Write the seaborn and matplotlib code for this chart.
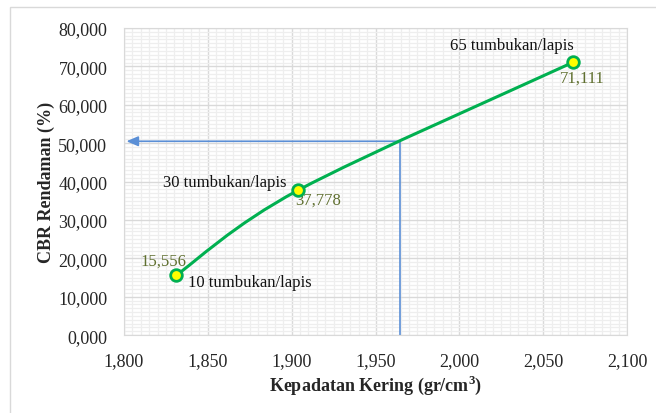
import matplotlib
matplotlib.use("Agg")
import matplotlib.pyplot as plt
import matplotlib.ticker as mticker
from matplotlib.path import Path
from matplotlib.patches import PathPatch, Rectangle
import numpy as np
import seaborn as sns

# data
density = [1.831, 1.904, 2.068]
cbr = [15.556, 37.778, 71.111]
blow_labels = ["10 tumbukan/lapis", "30 tumbukan/lapis", "65 tumbukan/lapis"]
value_labels = ["15,556", "37,778", "71,111"]
design_density = 1.9645
design_cbr = 50.5

GREEN = "#00b050"
BLUE = "#5b8fd6"
OLIVE = "#5f6f2f"


def comma_fmt(decimals):
    return mticker.FuncFormatter(lambda v, p: f"{v:.{decimals}f}".replace(".", ","))


def smooth_path(xs, ys):
    # Bezier smoothing like an Excel "smoothed line"
    pts = np.column_stack([xs, ys])
    n = len(pts)
    verts = [pts[0]]
    codes = [Path.MOVETO]
    for i in range(n - 1):
        p_prev = pts[max(i - 1, 0)]
        p0, p1 = pts[i], pts[i + 1]
        p_next = pts[min(i + 2, n - 1)]
        c1 = p0 + (p1 - p_prev) / 6
        c2 = p1 - (p_next - p0) / 6
        verts += [c1, c2, p1]
        codes += [Path.CURVE4] * 3
    return Path(verts, codes)


sns.set_style("white")
plt.rcParams["font.family"] = ["Liberation Serif", "DejaVu Serif"]

fig = plt.figure(figsize=(6.56, 4.14), dpi=100)
ax = fig.add_axes([0.189, 0.188, 0.767, 0.742])

# chart border
fig.patches.append(Rectangle((10 / 656, -0.1), 1.2, 1 - 8 / 414 + 0.1,
                             transform=fig.transFigure, fill=False,
                             edgecolor="#d9d9d9", linewidth=1))

ax.set_xlim(1.8, 2.1)
ax.set_ylim(0, 80)
ax.xaxis.set_major_locator(mticker.MultipleLocator(0.05))
ax.xaxis.set_minor_locator(mticker.MultipleLocator(0.005))
ax.yaxis.set_major_locator(mticker.MultipleLocator(10))
ax.yaxis.set_minor_locator(mticker.MultipleLocator(1))
ax.xaxis.set_major_formatter(comma_fmt(3))
ax.yaxis.set_major_formatter(mticker.FuncFormatter(
    lambda v, p: f"{v:.0f},000"))
ax.grid(which="minor", color="#eeeeee", linewidth=0.9)
ax.grid(which="major", color="#d9d9d9", linewidth=1.0)
ax.set_axisbelow(True)
for s in ax.spines.values():
    s.set_color("#d9d9d9")
ax.tick_params(which="both", length=0, labelsize=13)
ax.tick_params(axis="x", pad=12)
ax.tick_params(axis="y", pad=12)

# design lines
ax.plot([design_density, design_density], [0, design_cbr], color=BLUE, lw=1.2)
ax.annotate("", xy=(1.8015, design_cbr), xytext=(design_density, design_cbr),
            arrowprops=dict(arrowstyle="-|>,head_length=0.7,head_width=0.3",
                            color=BLUE, lw=1.2, shrinkA=0, shrinkB=0))

ax.add_patch(PathPatch(smooth_path(density, cbr), facecolor="none",
                       edgecolor=GREEN, lw=2.2, zorder=3))
sns.scatterplot(x=density, y=cbr, ax=ax, s=70, color="#ffff00",
                edgecolor=GREEN, linewidth=2, zorder=4)

blow_off = [(53, -5), (-53, 6), (-44, 12)]
val_off = [(-9, 11), (14, -7), (6.5, -11.5)]
for i in range(len(density)):
    ax.annotate(blow_labels[i], (density[i], cbr[i]), xytext=blow_off[i],
                textcoords="offset points", ha="center", va="center",
                fontsize=12, color="#111111")
    ax.annotate(value_labels[i], (density[i], cbr[i]), xytext=val_off[i],
                textcoords="offset points", ha="center", va="center",
                fontsize=12, color=OLIVE)

ax.set_xlabel("Kepadatan Kering (gr/cm$^\\mathregular{3}$)", fontsize=13,
              fontweight="bold", labelpad=3)
ax.set_ylabel("CBR Rendaman (%)", fontsize=13, fontweight="bold", labelpad=2)

fig.savefig("out.png", dpi=100)
